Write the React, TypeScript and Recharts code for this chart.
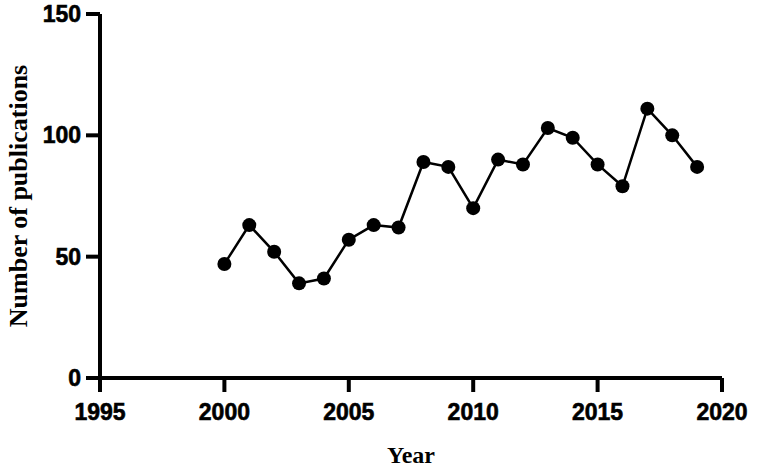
import { LineChart, Line, XAxis, YAxis } from 'recharts';

const years = [2000, 2001, 2002, 2003, 2004, 2005, 2006, 2007, 2008, 2009, 2010, 2011, 2012, 2013, 2014, 2015, 2016, 2017, 2018, 2019];
const publications = [47, 63, 52, 39, 41, 57, 63, 62, 89, 87, 70, 90, 88, 103, 99, 88, 79, 111, 100, 87];
const xTicks = [1995, 2000, 2005, 2010, 2015, 2020];
const yTicks = [0, 50, 100, 150];

type Point = { year: number; count: number };

const data: Point[] = years.map((year, i) => ({ year, count: publications[i] }));

// tick digits in the original look a touch heavier than plain bold, hence the thin stroke
const tickFont = {
  fontFamily: '"Liberation Sans", Arial, sans-serif',
  fontWeight: 700,
  fontSize: 23,
  fill: '#000',
  stroke: '#000',
  strokeWidth: 0.6,
};
const titleFont = { fontFamily: '"Liberation Serif", "Times New Roman", serif', fontWeight: 700, fill: '#000' };

const YTitle = ({ viewBox }: any) => {
  const cx = viewBox.x + 18;
  const cy = viewBox.y + viewBox.height / 2;
  return (
    <text x={cx} y={cy} transform={`rotate(-90 ${cx} ${cy})`} textAnchor="middle" dominantBaseline="central" fontSize={26} {...titleFont}>
      Number of publications
    </text>
  );
};

const XTitle = ({ viewBox }: any) => {
  const cx = viewBox.x + viewBox.width / 2;
  return (
    <text x={cx} y={viewBox.y + 85} textAnchor="middle" fontSize={24} {...titleFont}>
      Year
    </text>
  );
};

const App = () => {
  return (
    <div style={{ width: 760, height: 470, background: '#fff' }}>
      <style>{'body{margin:0;background:#fff}'}</style>
      <LineChart width={760} height={470} data={data} margin={{ top: 14, right: 38, left: 0, bottom: 0 }}>
        <XAxis
          dataKey="year"
          type="number"
          domain={[1995, 2020]}
          ticks={xTicks}
          height={92}
          tickSize={14}
          tickMargin={12}
          axisLine={{ stroke: '#000', strokeWidth: 4 }}
          tickLine={{ stroke: '#000', strokeWidth: 4 }}
          tick={tickFont}
          label={{ content: <XTitle /> }}
        />
        <YAxis
          dataKey="count"
          type="number"
          domain={[0, 150]}
          ticks={yTicks}
          width={100}
          tickSize={14}
          tickMargin={5}
          axisLine={{ stroke: '#000', strokeWidth: 4 }}
          tickLine={{ stroke: '#000', strokeWidth: 4 }}
          tick={tickFont}
          label={{ content: <YTitle /> }}
        />
        <Line
          type="linear"
          dataKey="count"
          stroke="#000"
          strokeWidth={2.5}
          dot={{ r: 7, fill: '#000', stroke: 'none' }}
          activeDot={false}
          isAnimationActive={false}
        />
      </LineChart>
    </div>
  );
};

export default App;
